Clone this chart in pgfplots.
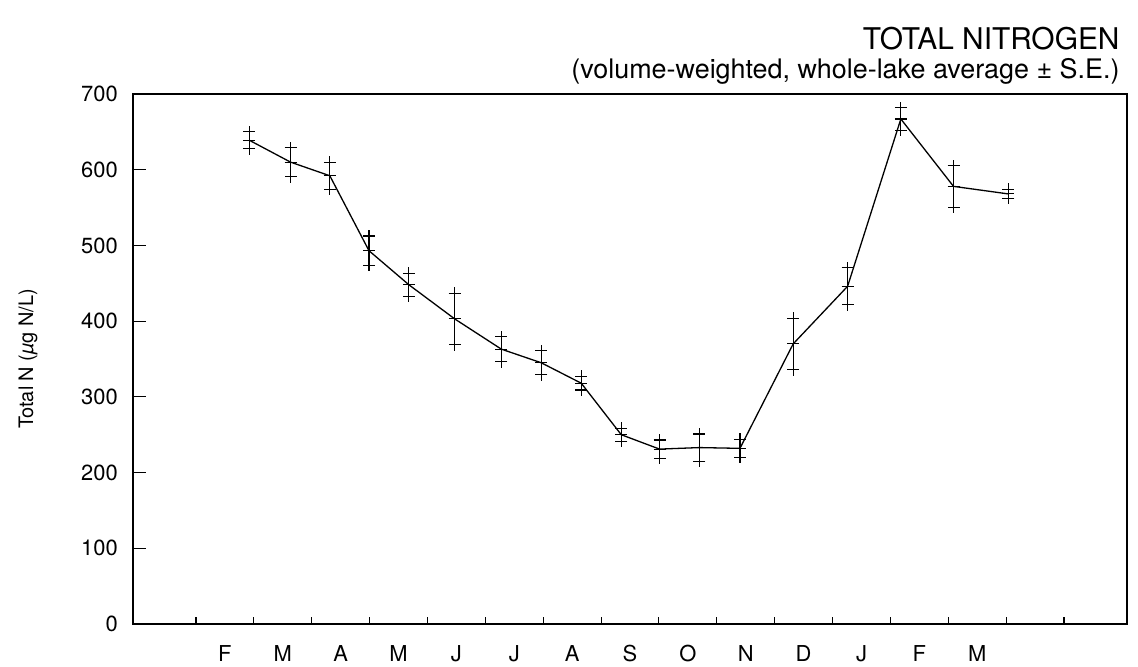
\documentclass[border=0pt]{standalone}
\usepackage{fontspec}
\setmainfont{TeX Gyre Heros}
\usepackage{pgfplots}
\usepackage{pgfplotstable}
\pgfplotsset{compat=1.18}
\usetikzlibrary{calc}

% sampling date (month-tick units), mean total N, standard error
\pgfplotstableread{
x      y    e
1.92   639  11
2.635  610  19
3.313  592  18
3.99   493  19.5
4.68   448  15
5.47   403  34
6.277  363  16.5
6.967  345  16
7.658  318  9
8.349  250  8.5
9.01   231  12
9.70   233  18
10.40  232  12
11.32  370  34
12.26  446  24.5
13.18  667  15
14.09  578  27.5
15.04  568  6
}\totaln

\begin{document}
\begin{tikzpicture}
\begin{axis}[
  name=main,
  scale only axis, width=994bp, height=530bp,
  xmin=-0.088, xmax=17.088, ymin=0, ymax=700,
  axis line style={line width=1.4bp},
  tick pos=left, tick align=inside,
  xtick={1,...,16},
  x tick label as interval,
  xticklabels={F,M,A,M,J,J,A,S,O,N,D,J,F,M,{}},
  ytick={0,100,...,700},
  xtick style={/pgfplots/major tick length=7bp, line width=1.1bp, black},
  ytick style={/pgfplots/major tick length=13bp, line width=1.1bp, black},
  /pgf/number format/assume math mode=true,
  tick label style={font=\fontsize{22}{22}\selectfont},
  yticklabel style={inner sep=0pt, xshift=-15bp},
  xticklabel style={inner sep=0pt, anchor=north, yshift=-21bp},
  ylabel={Total N (\textit{µ}g N/L)},
  ylabel style={at={(axis description cs:-0.1056,0.5)}, anchor=center,
    font=\fontsize{20}{20}\selectfont},
]
\addplot[black, line width=1.3bp, mark=+, mark size=6bp,
  mark options={line width=1.1bp},
  error bars/.cd, y dir=both, y explicit, error mark=+,
  error mark options={mark size=6bp, line width=1.1bp, black},
  error bar style={line width=1.1bp, black}]
  table[x=x, y=y, y error=e] {\totaln};
\end{axis}
\node[anchor=base east, font=\fontsize{30}{30}\selectfont]
  at ($(main.north east)+(-4bp,44bp)$) {TOTAL NITROGEN};
\node[anchor=base east, font=\fontsize{27}{27}\selectfont]
  at ($(main.north east)+(-4bp,15bp)$) {(volume-weighted, whole-lake average ± S.E.)};
\pgfresetboundingbox
\path[use as bounding box] ($(main.south west)+(-133bp,-43bp)$) rectangle ($(main.north east)+(11bp,94bp)$);
\end{tikzpicture}
\end{document}
